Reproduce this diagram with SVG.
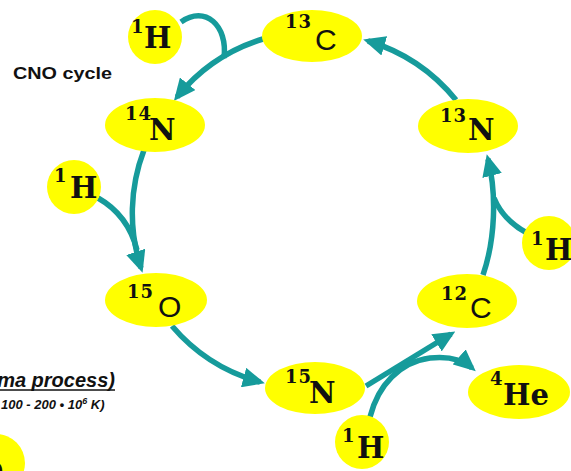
<svg xmlns="http://www.w3.org/2000/svg" width="571" height="471" viewBox="0 0 571 471">
<style>
.nd{fill:#ffff00}
.sup{font-family:"DejaVu Serif","Liberation Serif",serif;font-weight:bold;font-size:18px;fill:#111}
.el{font-family:"DejaVu Serif","Liberation Serif",serif;font-weight:bold;font-size:29px;fill:#111}
.sa{font-family:"Liberation Sans",Arial,sans-serif;font-size:30px;fill:#111}
.cn{fill:none;stroke:#169b9b;stroke-width:5.5}
.lbl{font-family:"Liberation Sans",Arial,sans-serif;font-weight:bold;fill:#111}
</style>
<defs>
<marker id="ah" viewBox="0 0 22 20" refX="17" refY="10" markerWidth="22" markerHeight="20" markerUnits="userSpaceOnUse" orient="auto">
<path d="M0,0 L22,10 L0,20 z" fill="#169b9b"/>
</marker>
</defs>
<rect width="571" height="471" fill="#ffffff"/>

<g id="connectors">
<path class="cn" d="M263,39 A177,177 0 0 0 177,97" marker-end="url(#ah)"/>
<path class="cn" d="M181,22 C205,5 228,25 224,58"/>
<path class="cn" d="M144,150 A177,177 0 0 0 141,268" marker-end="url(#ah)"/>
<path class="cn" d="M98,198 Q128,215 137,250"/>
<path class="cn" d="M172,326 A177,177 0 0 0 260,382" marker-end="url(#ah)"/>
<path class="cn" d="M366,386 Q405,362 451,334" marker-end="url(#ah)"/>
<path class="cn" d="M370,417 C378,385 400,362 430,358 Q457,355 472,368" marker-end="url(#ah)"/>
<path class="cn" d="M483,275 C495,240 497,195 488,159" marker-end="url(#ah)"/>
<path class="cn" d="M527,233 Q503,220 494,198"/>
<path class="cn" d="M456,100 A180,180 0 0 0 368,41" marker-end="url(#ah)"/>
</g>

<g id="n-h-top"><circle class="nd" cx="155" cy="37" r="27"/><text class="sup" x="131" y="33">1</text><text class="el" x="144" y="48">H</text></g>
<g id="n-c13"><ellipse class="nd" cx="312" cy="36" rx="50" ry="26"/><text class="sup" x="285" y="28" letter-spacing="1">13</text><text class="sa" x="315" y="50">C</text></g>
<g id="n-n14"><ellipse class="nd" cx="155" cy="125" rx="50" ry="27"/><text class="sup" x="125" y="120" letter-spacing="1">14</text><text class="el" x="149" y="140">N</text></g>
<g id="n-n13"><ellipse class="nd" cx="468" cy="126" rx="50" ry="27"/><text class="sup" x="440" y="122" letter-spacing="1">13</text><text class="el" x="468" y="140">N</text></g>
<g id="n-h-left"><circle class="nd" cx="74" cy="187" r="27"/><text class="sup" x="54" y="182">1</text><text class="el" x="70" y="198">H</text></g>
<g id="n-o15"><ellipse class="nd" cx="156" cy="300" rx="51" ry="27"/><text class="sup" x="127" y="298" letter-spacing="1">15</text><text class="sa" x="158" y="317">O</text></g>
<g id="n-n15"><ellipse class="nd" cx="315" cy="388" rx="50" ry="26"/><text class="sup" x="285" y="383" letter-spacing="1">15</text><text class="el" x="309" y="403">N</text></g>
<g id="n-c12"><ellipse class="nd" cx="467" cy="301" rx="50" ry="27"/><text class="sup" x="441" y="300" letter-spacing="1">12</text><text class="sa" x="470" y="318">C</text></g>
<g id="n-h-right"><circle class="nd" cx="549" cy="243" r="27"/><text class="sup" x="531" y="245">1</text><text class="el" x="545" y="260">H</text></g>
<g id="n-he4"><ellipse class="nd" cx="519" cy="392" rx="51" ry="27"/><text class="sup" x="490" y="385">4</text><text class="el" x="503" y="405">He</text></g>
<g id="n-h-bottom"><circle class="nd" cx="362" cy="442" r="27"/><text class="sup" x="342" y="442">1</text><text class="el" x="357" y="458">H</text></g>
<g id="n-partial"><circle class="nd" cx="-4" cy="463" r="29"/><text class="el" x="-15" y="478">e</text></g>

<text class="lbl" x="13" y="79" font-size="17" textLength="99" lengthAdjust="spacingAndGlyphs">CNO cycle</text>
<text class="lbl" x="115" y="387" font-size="20" font-style="italic" text-anchor="end">ma process)</text>
<line x1="0" y1="390" x2="115" y2="390" stroke="#111" stroke-width="1.5"/>
<text class="lbl" x="1" y="409" font-size="13" font-style="italic">100 - 200 • 10<tspan font-size="9" dy="-5">6</tspan><tspan dy="5"> K)</tspan></text>
</svg>
